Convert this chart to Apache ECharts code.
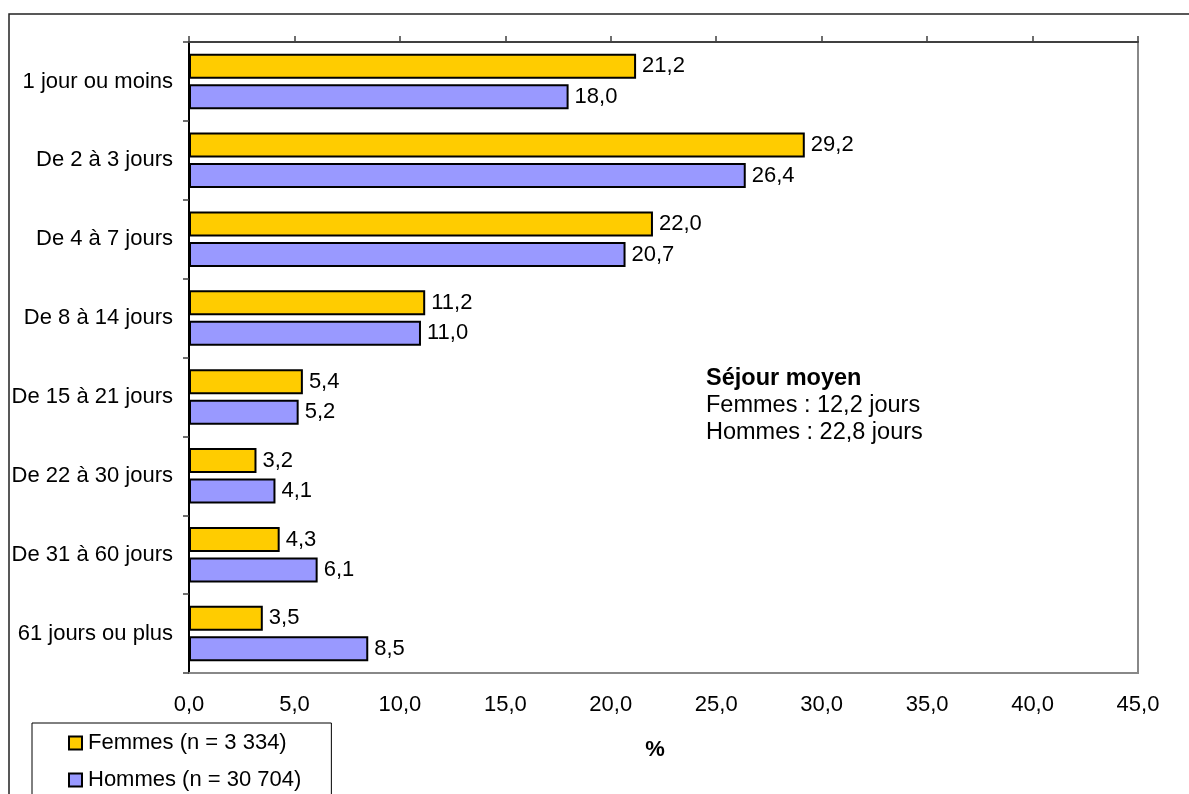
<!DOCTYPE html>
<html>
<head>
<meta charset="utf-8">
<script src="https://cdn.jsdelivr.net/npm/echarts@6/dist/echarts.min.js"></script>
<style>
  html, body { margin: 0; padding: 0; background: #fff; }
  #chart { width: 1189px; height: 794px; }
</style>
</head>
<body>
<div id="chart"></div>
<script>
// Durée de séjour, répartition en % par sexe
const categories = [
  '1 jour ou moins',
  'De 2 à 3 jours',
  'De 4 à 7 jours',
  'De 8 à 14 jours',
  'De 15 à 21 jours',
  'De 22 à 30 jours',
  'De 31 à 60 jours',
  '61 jours ou plus'
];
const femmes = [21.2, 29.2, 22.0, 11.2, 5.4, 3.2, 4.3, 3.5];
const hommes = [18.0, 26.4, 20.7, 11.0, 5.2, 4.1, 6.1, 8.5];
const seriesNames = ['Femmes (n = 3 334)', 'Hommes (n = 30 704)'];
const xTicks = { min: 0, max: 45, interval: 5 };

const FONT = '"Liberation Sans", Arial, sans-serif';
const fr = v => Number(v).toFixed(1).replace('.', ',');

const chart = echarts.init(document.getElementById('chart'), null, { renderer: 'canvas' });

const labelStyle = {
  show: true,
  position: 'right',
  distance: 6,
  color: '#000',
  fontFamily: FONT,
  fontSize: 22,
  formatter: p => fr(p.value)
};

chart.setOption({
  animation: false,
  backgroundColor: '#fff',
  textStyle: { fontFamily: FONT },
  grid: {
    left: 189, top: 42, right: 51, bottom: 121,
    show: true,
    borderColor: '#888',
    borderWidth: 2,
    backgroundColor: 'transparent'
  },
  legend: {
    orient: 'vertical',
    left: 32,
    top: 723,
    width: 240,
    height: 120,
    padding: [9, 30, 30, 36],
    itemWidth: 13,
    itemHeight: 13,
    itemGap: 15,
    icon: 'rect',
    itemStyle: { borderColor: '#000', borderWidth: 2 },
    borderColor: '#000',
    borderWidth: 1,
    backgroundColor: '#fff',
    textStyle: { color: '#000', fontFamily: FONT, fontSize: 22, padding: [0, 0, 0, 1] },
    data: seriesNames
  },
  xAxis: [
    {
      type: 'value',
      position: 'bottom',
      min: xTicks.min, max: xTicks.max, interval: xTicks.interval,
      axisLine: { show: true, lineStyle: { color: '#888', width: 2 } },
      axisTick: { show: false },
      splitLine: { show: false },
      axisLabel: {
        margin: 21,
        color: '#000',
        fontFamily: FONT,
        fontSize: 22,
        formatter: v => fr(v)
      }
    },
    {
      type: 'value',
      position: 'top',
      min: xTicks.min, max: xTicks.max, interval: xTicks.interval,
      axisLine: { show: true, lineStyle: { color: '#404040', width: 2 } },
      axisTick: { show: true, inside: false, length: 6, lineStyle: { color: '#404040', width: 1.5 } },
      splitLine: { show: false },
      axisLabel: { show: false }
    }
  ],
  yAxis: {
    type: 'category',
    inverse: true,
    data: categories,
    axisLine: { show: true, lineStyle: { color: '#000', width: 2 } },
    axisTick: { show: true, length: 6, lineStyle: { color: '#404040', width: 1.5 } },
    axisLabel: {
      margin: 16,
      color: '#000',
      fontFamily: FONT,
      fontSize: 22
    }
  },
  series: [
    {
      name: seriesNames[0],
      type: 'bar',
      data: femmes,
      barWidth: 25,
      barGap: '22%',
      itemStyle: { color: '#FFCC00', borderColor: '#000', borderWidth: 2 },
      label: labelStyle
    },
    {
      name: seriesNames[1],
      type: 'bar',
      data: hommes,
      barWidth: 25,
      itemStyle: { color: '#9999FF', borderColor: '#000', borderWidth: 2 },
      label: labelStyle
    }
  ],
  graphic: [
    {
      type: 'rect',
      silent: true,
      z: -10,
      shape: { x: 9, y: 14, width: 1200, height: 800 },
      style: { fill: 'none', stroke: '#222', lineWidth: 1.5 }
    },
    {
      type: 'text',
      left: 706,
      top: 367,
      style: {
        text: '{b|Séjour moyen}\n{n|Femmes : 12,2 jours}\n{n|Hommes : 22,8 jours}',
        rich: {
          b: { fontFamily: FONT, fontSize: 23.5, fontWeight: 'bold', lineHeight: 27, fill: '#000' },
          n: { fontFamily: FONT, fontSize: 23.5, lineHeight: 27, fill: '#000' }
        }
      }
    },
    {
      type: 'text',
      x: 655,
      y: 750,
      style: {
        text: '%',
        fontFamily: FONT,
        fontSize: 22,
        fontWeight: 'bold',
        fill: '#000',
        align: 'center',
        verticalAlign: 'middle'
      }
    }
  ]
});
</script>
</body>
</html>
